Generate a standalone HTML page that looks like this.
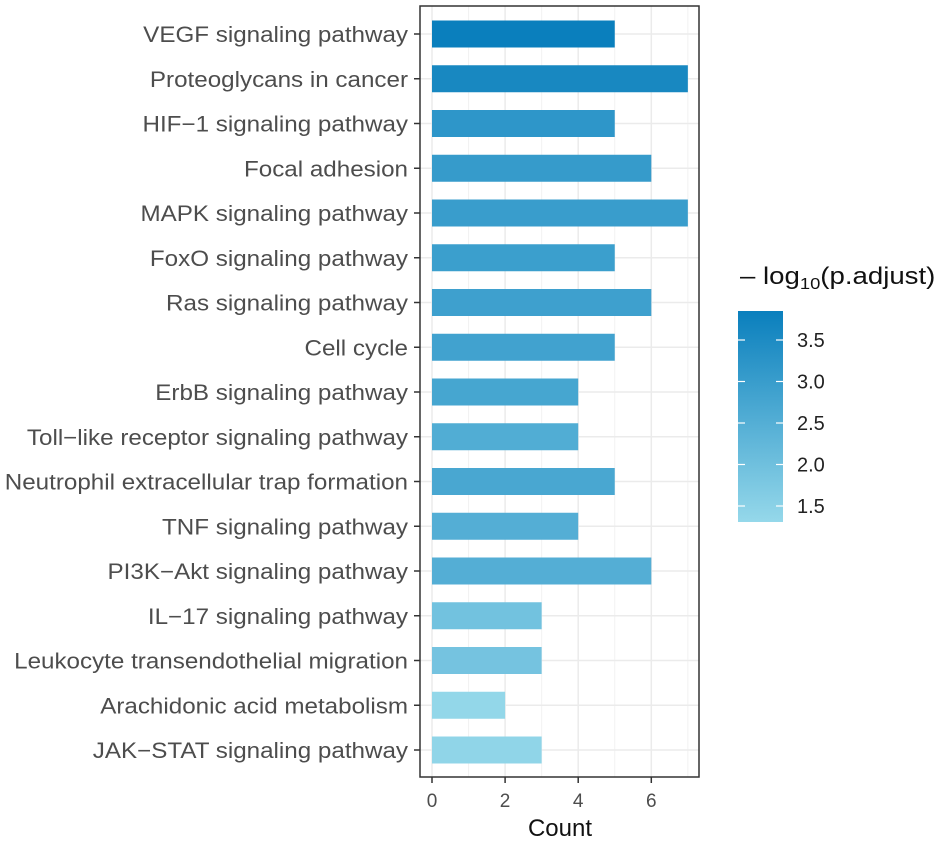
<!DOCTYPE html>
<html><head><meta charset="utf-8"><style>
body{margin:0;background:#fff;font-family:"Liberation Sans",Arial,sans-serif}
</style></head><body>
<svg id="c" width="934" height="842" xmlns="http://www.w3.org/2000/svg">
<defs><linearGradient id="g" x1="0" y1="1" x2="0" y2="0">
<stop offset="0" stop-color="#95d8ea"/><stop offset="1" stop-color="#0a7fbd"/></linearGradient></defs>
<rect x="420" y="6" width="279" height="771" fill="#fff"/>
<g id="grid"></g><g id="bars"></g><g id="ylab"></g><g id="xax"></g>
<rect x="420" y="6" width="279" height="771" fill="none" stroke="#333" stroke-width="1.5"/>
<text x="560" y="836" font-size="24" text-anchor="middle" fill="#111">Count</text>
<g>
<text transform="translate(740,284) scale(1.15,1)" font-size="24" fill="#111">– log<tspan font-size="16" dy="5">10</tspan><tspan dy="-5">(p.adjust)</tspan></text>
<rect x="738" y="311" width="45" height="211" fill="url(#g)"/>
<g id="leg"></g></g>
</svg>
<script>
const categories=["VEGF signaling pathway","Proteoglycans in cancer","HIF−1 signaling pathway","Focal adhesion","MAPK signaling pathway","FoxO signaling pathway","Ras signaling pathway","Cell cycle","ErbB signaling pathway","Toll−like receptor signaling pathway","Neutrophil extracellular trap formation","TNF signaling pathway","PI3K−Akt signaling pathway","IL−17 signaling pathway","Leukocyte transendothelial migration","Arachidonic acid metabolism","JAK−STAT signaling pathway"];
const counts=[5,7,5,6,7,5,6,5,4,4,5,4,6,3,3,2,3];
const logp=[3.85,3.6,3.2,3.05,3.0,2.95,2.9,2.85,2.75,2.55,2.7,2.5,2.5,1.95,1.9,1.35,1.4];
const xTicks=[0,2,4,6];
const legTicks=[1.5,2.0,2.5,3.0,3.5];
const NS="http://www.w3.org/2000/svg";
const x=v=>432+v*36.55;
const y=i=>34+i*44.75;
const ly=v=>506-(v-1.5)*83;
const cmin=1.31,cmax=3.85;
function col(v){let t=Math.max(0,Math.min(1,(v-cmin)/(cmax-cmin)));
const a=[0x95,0xd8,0xea],b=[0x0a,0x7f,0xbd];
return "rgb("+a.map((c,k)=>Math.round(c+(b[k]-c)*t)).join(",")+")";}
function mk(t,at,p){const e=document.createElementNS(NS,t);for(const k in at)e.setAttribute(k,at[k]);p.appendChild(e);return e;}
const grid=document.getElementById('grid'),bars=document.getElementById('bars'),yl=document.getElementById('ylab'),xa=document.getElementById('xax'),leg=document.getElementById('leg');
for(let v=1;v<=7;v+=2){const l=mk('line',{x1:x(v),x2:x(v),y1:6,y2:777,stroke:'#f2f2f2','stroke-width':1},grid);

}
xTicks.forEach(v=>{const l=mk('line',{x1:x(v),x2:x(v),y1:6,y2:777,stroke:'#ebebeb','stroke-width':1.5},grid);


const tk=mk('line',{x1:x(v),x2:x(v),y1:777,y2:783,stroke:'#333','stroke-width':1.5},xa);


const t=mk('text',{x:x(v),y:807,'font-size':19,'text-anchor':'middle',fill:'#4d4d4d'},xa);t.textContent=v;

});
categories.forEach((c,i)=>{const g=mk('line',{x1:420,x2:699,y1:y(i),y2:y(i),stroke:'#ebebeb','stroke-width':1.5},grid);


const r=mk('rect',{x:x(0),y:y(i)-13.5,width:x(counts[i])-x(0),height:27,fill:col(logp[i])},bars);


const tk=mk('line',{x1:414,x2:420,y1:y(i),y2:y(i),stroke:'#333','stroke-width':1.5},yl);


const t=mk('text',{transform:'translate(408,'+(y(i)+8)+') scale(1.1,1)','font-size':22,'text-anchor':'end',fill:'#4d4d4d'},yl);t.textContent=c;

});
legTicks.forEach(v=>{[[738,745],[776,783]].forEach(p=>{const l=mk('line',{x1:p[0],x2:p[1],y1:ly(v),y2:ly(v),stroke:'#fff','stroke-width':1.2},leg);

});
const t=mk('text',{x:797,y:ly(v)+7,'font-size':20,fill:'#222'},leg);t.textContent=v.toFixed(1);

});
</script>
</body></html>
